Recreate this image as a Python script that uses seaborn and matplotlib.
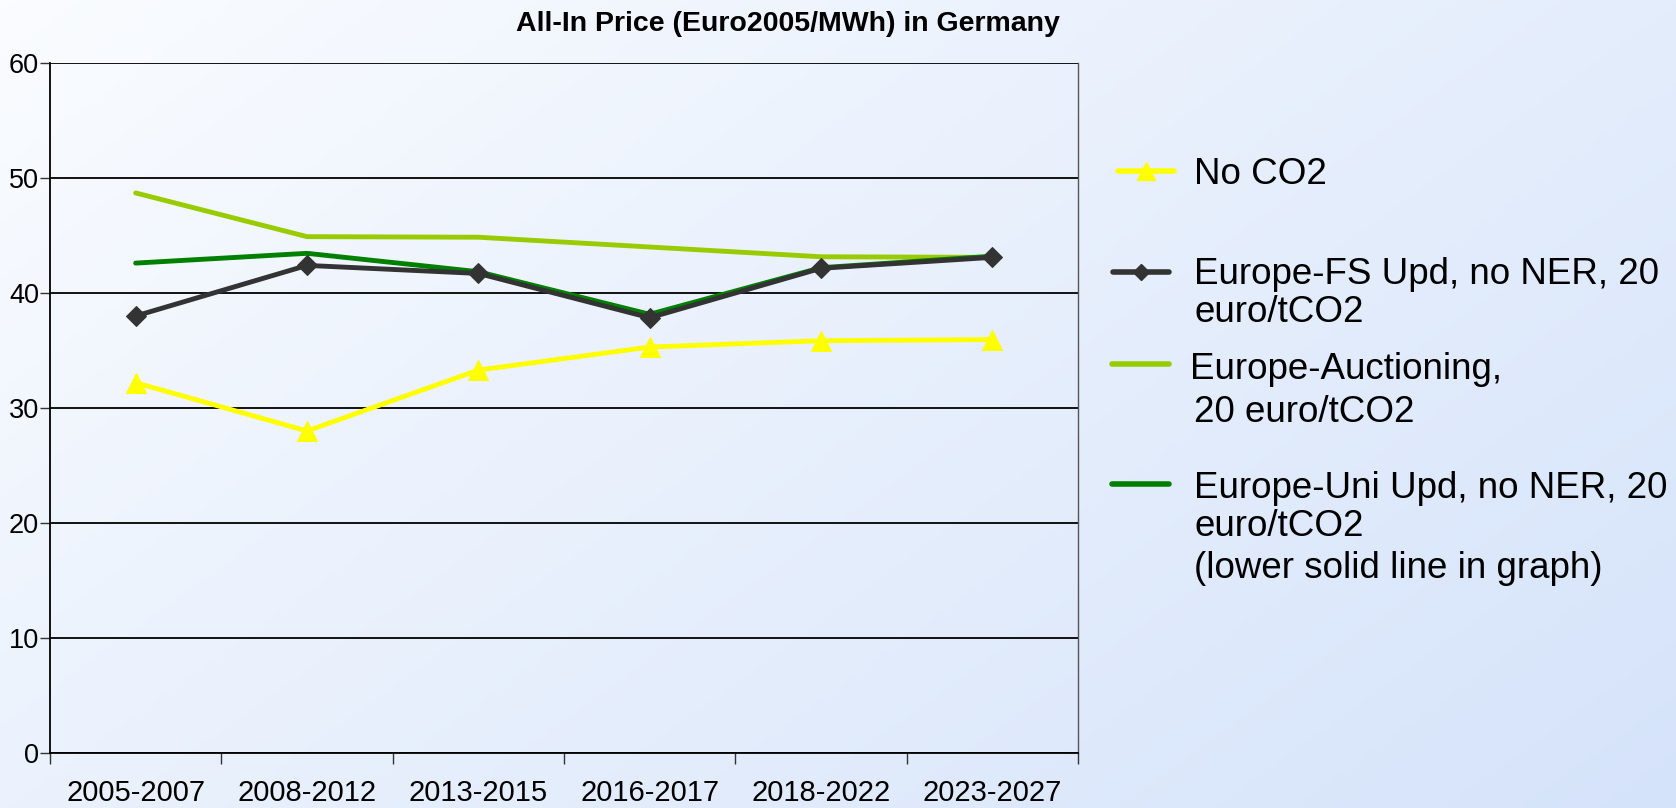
import numpy as np
import pandas as pd
import matplotlib
matplotlib.use("Agg")
import matplotlib.pyplot as plt
import seaborn as sns
from matplotlib.lines import Line2D
from matplotlib.colors import LinearSegmentedColormap

periods = ["2005-2007", "2008-2012", "2013-2015", "2016-2017", "2018-2022", "2023-2027"]
no_co2 = [32.2, 28.0, 33.3, 35.3, 35.85, 35.95]
fs_upd = [38.0, 42.4, 41.7, 37.85, 42.15, 43.1]
auction = [48.7, 44.9, 44.85, 44.0, 43.15, 43.1]
uni_upd = [42.6, 43.45, 41.85, 38.15, 42.2, 43.2]
yticks = [0, 10, 20, 30, 40, 50, 60]

series_names = ["Europe-Auctioning", "Europe-Uni Upd", "Europe-FS Upd", "No CO2"]
series_vals = [auction, uni_upd, fs_upd, no_co2]
colors = {"Europe-Auctioning": "#99CC00", "Europe-Uni Upd": "#008000",
          "Europe-FS Upd": "#333333", "No CO2": "#FFFF00"}
markers = {"Europe-Auctioning": "", "Europe-Uni Upd": "", "Europe-FS Upd": "D", "No CO2": "^"}

rows = []
for name, vals in zip(series_names, series_vals):
    for p, v in zip(periods, vals):
        rows.append({"period": p, "value": v, "series": name})
df = pd.DataFrame(rows)

sns.set_theme(style="white")
plt.rcParams["font.family"] = ["Liberation Sans", "DejaVu Sans"]
plt.rcParams["text.color"] = "black"
plt.rcParams["xtick.color"] = "black"
plt.rcParams["ytick.color"] = "black"

W, H = 1676, 808
fig = plt.figure(figsize=(W / 100, H / 100), dpi=100)

# gradient background
bg = fig.add_axes([0, 0, 1, 1], zorder=-10)
yy, xx = np.mgrid[0:1:200j, 0:1:400j]
t = (xx * 0.6 + yy * 0.4)
cmap = LinearSegmentedColormap.from_list("bg", ["#fafcff", "#d5e3fa"])
bg.imshow(t, cmap=cmap, aspect="auto", extent=[0, 1, 0, 1], origin="upper")
bg.axis("off")

def fx(px):
    return px / W

def fy(py):
    return 1 - py / H

ax = fig.add_axes([fx(50), fy(753), fx(1078) - fx(50), fy(63) - fy(753)])
ax.patch.set_alpha(0)

for name in series_names:
    sub = df[df["series"] == name]
    x = [periods.index(p) for p in sub["period"]]
    sns.lineplot(x=x, y=sub["value"].values, ax=ax, color=colors[name],
                 marker=markers[name] if markers[name] else None,
                 markersize=14 if markers[name] == "^" else 10,
                 markeredgecolor=colors[name], linewidth=3.5, legend=False,
                 estimator=None, sort=False, zorder=3)

ax.set_xlim(-0.5, 5.5)
ax.set_ylim(0, 60)
ax.set_yticks(yticks)
ax.set_yticklabels([str(v) for v in yticks], fontsize=19.5)
ax.set_xticks(np.arange(-0.5, 6.0, 1.0))
ax.set_xticklabels([""] * 7)
ax.set_xticks(np.arange(6), minor=True)
ax.set_xticklabels(periods, minor=True, fontsize=21)
ax.tick_params(axis="x", which="minor", length=0, pad=19)
ax.tick_params(axis="x", which="major", length=8, width=1, color="#333333", direction="out", bottom=True)
ax.tick_params(axis="y", length=7, width=1, color="#333333", direction="out", left=True, pad=1)
ax.set_xlabel("")
ax.set_ylabel("")
ax.yaxis.grid(True, color="black", linewidth=1.3)
ax.xaxis.grid(False)
ax.set_axisbelow(True)
for s in ["left", "bottom"]:
    ax.spines[s].set_color("black")
    ax.spines[s].set_linewidth(1.3)
ax.spines["right"].set_color("#555555")
ax.spines["right"].set_linewidth(1.0)
ax.spines["top"].set_visible(False)

fig.text(fx(788), fy(24), "All-In Price (Euro2005/MWh) in Germany", ha="center", va="center",
         fontsize=20.5, fontweight="bold")

# legend
leg_fs = 26.5
def handle(x0, x1, y, color, marker=None, ms=10):
    fig.add_artist(Line2D([fx(x0), fx(x1)], [fy(y), fy(y)], transform=fig.transFigure,
                          color=color, linewidth=4))
    if marker:
        fig.add_artist(Line2D([fx((x0 + x1) / 2)], [fy(y)], transform=fig.transFigure,
                              color=color, marker=marker, markersize=ms, linestyle="none"))

handle(1118, 1174, 171, colors["No CO2"], "^", 13)
fig.text(fx(1194), fy(174), "No CO2", fontsize=leg_fs, va="center", ha="left")

handle(1113, 1169, 272, colors["Europe-FS Upd"], "D", 8)
fig.text(fx(1194), fy(275), "Europe-FS Upd, no NER, 20", fontsize=leg_fs, va="center", ha="left")
fig.text(fx(1194), fy(312), "euro/tCO2", fontsize=leg_fs, va="center", ha="left")

handle(1112, 1169, 364, colors["Europe-Auctioning"])
fig.text(fx(1190), fy(370), "Europe-Auctioning,", fontsize=leg_fs, va="center", ha="left")
fig.text(fx(1194), fy(412), "20 euro/tCO2", fontsize=leg_fs, va="center", ha="left")

handle(1112, 1169, 484, colors["Europe-Uni Upd"])
fig.text(fx(1194), fy(488), "Europe-Uni Upd, no NER, 20", fontsize=leg_fs, va="center", ha="left")
fig.text(fx(1194), fy(527), "euro/tCO2", fontsize=leg_fs, va="center", ha="left")
fig.text(fx(1194), fy(568), "(lower solid line in graph)", fontsize=leg_fs, va="center", ha="left")

fig.savefig("out.png", dpi=100)
